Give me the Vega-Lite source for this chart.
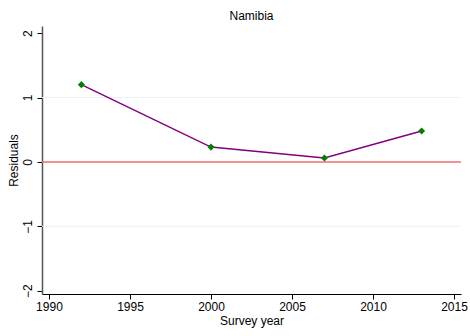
{
  "$schema": "https://vega.github.io/schema/vega-lite/v6.json",
  "width": 419,
  "height": 268,
  "autosize": {"type": "none"},
  "padding": {"left": 42, "top": 26, "right": 9, "bottom": 42},
  "background": "white",
  "config": {
    "view": {"stroke": null},
    "font": "Liberation Sans",
    "axis": {"labelFont": "Liberation Sans", "titleFont": "Liberation Sans", "labelColor": "#000", "titleColor": "#000", "titleFontWeight": "normal", "labelFontSize": 12, "titleFontSize": 12, "grid": false, "tickColor": "#000", "domainColor": "#000", "tickSize": 5}
  },
  "title": {"text": "Namibia", "fontSize": 12, "fontWeight": "normal", "font": "Liberation Sans", "color": "#000", "offset": 3, "anchor": "middle"},
  "layer": [
    {
      "data": {"values": [{"g": -1}, {"g": 1}]},
      "mark": {"type": "rule", "color": "#eaf2f3", "strokeWidth": 1},
      "encoding": {
        "y": {"field": "g", "type": "quantitative",
              "scale": {"domain": [-2.05, 2.11], "nice": false, "zero": false},
              "axis": {"title": "Residuals", "values": [-2, -1, 0, 1, 2], "format": "d", "labelAngle": -90, "labelAlign": "center", "labelBaseline": "bottom", "labelPadding": 3, "titlePadding": 1, "domainColor": "#555", "domainWidth": 1.5}}
      }
    },
    {
      "data": {"values": [{"z": 0}]},
      "mark": {"type": "rule", "color": "#ef6b6b", "strokeWidth": 1.5},
      "encoding": {"y": {"field": "z", "type": "quantitative"}}
    },
    {
      "data": {"values": [
        {"year": 1992, "res": 1.2},
        {"year": 2000, "res": 0.23},
        {"year": 2007, "res": 0.06},
        {"year": 2013, "res": 0.48}
      ]},
      "encoding": {
        "x": {"field": "year", "type": "quantitative",
              "scale": {"domain": [1989.57, 2015.43], "nice": false, "zero": false},
              "axis": {"title": "Survey year", "values": [1990, 1995, 2000, 2005, 2010, 2015], "format": "d", "labelAngle": 0, "labelPadding": 2, "titlePadding": 3, "domainWidth": 1.2}},
        "y": {"field": "res", "type": "quantitative"}
      },
      "layer": [
        {"mark": {"type": "line", "color": "#800080", "strokeWidth": 1.5}},
        {"mark": {"type": "point", "shape": "diamond", "filled": true, "color": "#008000", "size": 50, "opacity": 1}}
      ]
    }
  ]
}
